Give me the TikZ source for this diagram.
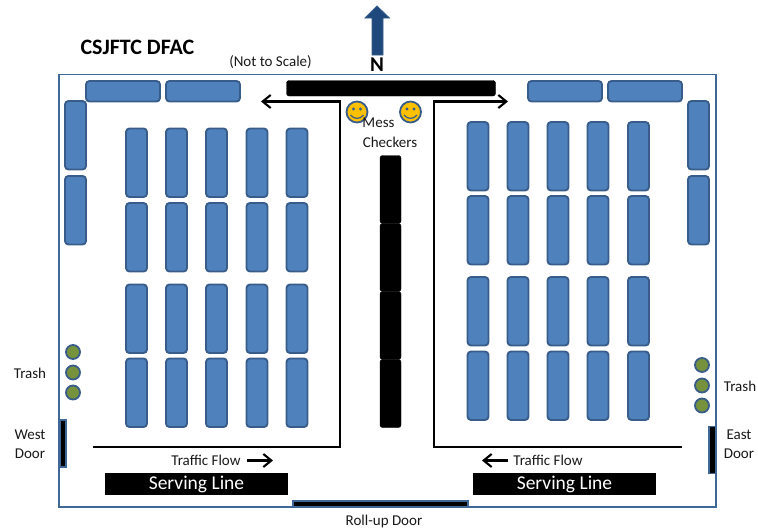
\documentclass[tikz,border=0pt]{standalone}
\usepackage{fontspec}
\setmainfont{Carlito}
\usetikzlibrary{arrows.meta}
\definecolor{benchfill}{HTML}{4F81BD}
\definecolor{benchline}{HTML}{385D8A}
\definecolor{framecol}{HTML}{3F6797}
\definecolor{northcol}{HTML}{1F497D}
\definecolor{trashfill}{HTML}{76923C}
\definecolor{smileyfill}{HTML}{FFC000}
\tikzset{
  x=1pt,y=-1pt,
  bench/.style={draw=benchline,fill=benchfill,line width=1.9pt,rounded corners=3.5pt},
  blackbar/.style={draw=black,fill=black,rounded corners=2.5pt},
  doorbox/.style={draw=framecol,fill=black,line width=1.8pt},
  trashcan/.style={circle,draw=benchline,fill=trashfill,line width=1.8pt,minimum size=14pt,inner sep=0pt},
  smiley/.style={circle,draw=benchline,fill=smileyfill,line width=1.8pt,minimum size=21pt,inner sep=0pt},
  flow/.style={draw=black,line width=2.1pt},
  flowarrow/.style={flow,-{Straight Barb[length=8pt,width=13pt,line width=2.1pt]}},
  label/.style={inner sep=0pt,font=\fontsize{15}{18}\selectfont,align=center,text=black!90},
  serving/.style={fill=black,text=white,minimum width=183pt,minimum height=22pt,inner sep=0pt,font=\fontsize{19.5}{22}\selectfont}
}
\newcommand{\benchv}[2]{\draw[bench] (#1,#2) rectangle ++(21,68.5);}
\newcommand{\benchh}[2]{\draw[bench] (#1,#2) rectangle ++(74,20.5);}
\newcommand{\smileface}[2]{%
  \node[smiley] at (#1,#2) {};
  \fill[benchline] (#1-3.5,#2-3) circle (1.6) (#1+3.5,#2-3) circle (1.6);
  \draw[benchline,line width=1.2pt] (#1-6.5,#2+3) .. controls (#1-3,#2+7.5) and (#1+3,#2+7.5) .. (#1+6.5,#2+3);}
\begin{document}
\begin{tikzpicture}
\useasboundingbox (0,0) rectangle (758,531);
% frame
\draw[framecol,line width=1.9pt] (59,74.5) rectangle (716,507);
% north arrow
\draw[fill=northcol,draw=benchline,line width=0.8pt] (372,55) -- (372,18) -- (365,18) -- (377,6) -- (389.5,18) -- (383,18) -- (383,55) -- cycle;
\node[inner sep=0pt,font=\bfseries\fontsize{21}{23}\selectfont] (north) at (377,64.5) {N};
% title
\node[inner sep=0pt,font=\bfseries\fontsize{22}{24}\selectfont] (title) at (137.5,47.5) {CSJFTC DFAC};
\node[label,font=\fontsize{15}{18}\selectfont] (scale) at (270.5,62) {(Not to Scale)};
% wall benches
\benchh{86}{81} \benchh{166}{81} \benchh{528}{81} \benchh{608}{81}
\benchv{65}{101} \benchv{65}{176} \benchv{688}{101} \benchv{688}{176}
% left tables
\foreach \x in {126,166,206,246.5,286.5}
  \foreach \y in {128.5,203,284.5,358.5} {\benchv{\x}{\y}}
% right tables
\foreach \x in {467.5,507.5,547.5,587.5,628}
  \foreach \y in {122,196,277,351.5} {\benchv{\x}{\y}}
% black furniture
\draw[blackbar] (286.5,80.5) rectangle (495.5,96);
\foreach \y in {155.5,223.5,291.5,359.5}
  \draw[blackbar] (380,\y) rectangle (401,\y+68);
% flow lines
\coordinate (lstart) at (93,447);
\coordinate (lcorner) at (340,447);
\coordinate (ltop) at (340,101.5);
\coordinate (lend) at (261,101.5);
\coordinate (rstart) at (682,447);
\coordinate (rcorner) at (434,447);
\coordinate (rtop) at (434,101.5);
\coordinate (rend) at (508,101.5);
\draw[flowarrow] (lstart) -- (lcorner) -- (ltop) -- (lend);
\draw[flowarrow] (rstart) -- (rcorner) -- (rtop) -- (rend);
% smileys
\smileface{357}{112}
\smileface{410.5}{112}
\node[label] (mess) at (378.5,122.5) {Mess};
\node[label] (checkers) at (390,142) {Checkers};
% trash
\foreach \y in {352,372.5,392.5} \node[trashcan] at (73,\y) {};
\foreach \y in {365,385.5,405.5} \node[trashcan] at (702,\y) {};
\node[label] (trashw) at (30,373) {Trash};
\node[label] (trashe) at (740,386) {Trash};
% doors
\draw[doorbox] (60,420) rectangle (66,467);
\draw[doorbox] (709,426.5) rectangle (715.5,473.5);
\draw[doorbox] (293,501) rectangle (468,507);
\node[label] (westd) at (30,444) {West\\[1pt]Door};
\node[label] (eastd) at (739,444) {East\\[1pt]Door};
\node[label] (rollup) at (384,521.5) {Roll-up Door};
% serving lines
\node[serving] (servw) at (196.5,484) {\raisebox{-3pt}{Serving Line}};
\node[serving] (serve) at (564.5,484) {\raisebox{-3pt}{Serving Line}};
% traffic flow
\node[label] (tfw) at (206,460.5) {Traffic Flow};
\node[label] (tfe) at (548,460.5) {Traffic Flow};
\coordinate (aw1) at (247,460.5);
\coordinate (aw2) at (273,460.5);
\coordinate (ae1) at (508,460.5);
\coordinate (ae2) at (482,460.5);
\draw[flowarrow] (aw1) -- (aw2);
\draw[flowarrow] (ae1) -- (ae2);
\end{tikzpicture}
\end{document}
